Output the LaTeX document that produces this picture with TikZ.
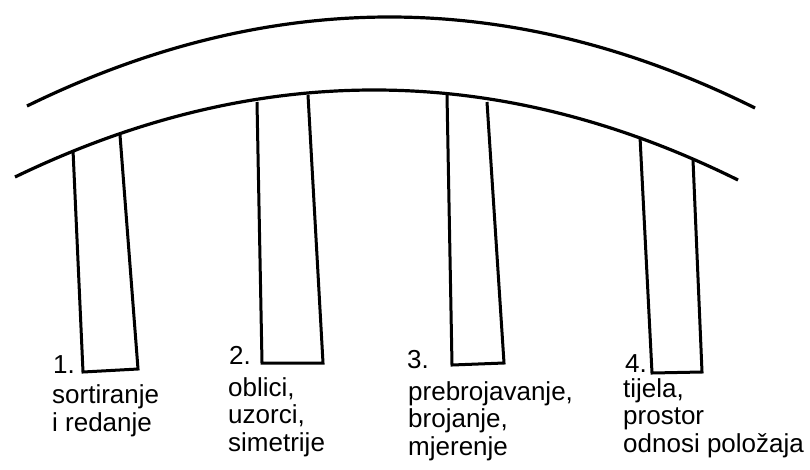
\documentclass[tikz,border=0pt]{standalone}
\usepackage{fontspec}
\setmainfont{Liberation Sans}
\begin{document}
\begin{tikzpicture}[x=1pt,y=-1pt,
    arch/.style={line width=3.2pt},
    pillar/.style={line width=3pt, line join=miter},
    num/.style={anchor=base west, inner sep=0pt, font=\fontsize{26}{27.5}\selectfont},
    area/.style={anchor=base west, inner sep=0pt, align=left, font=\fontsize{26}{27.5}\selectfont}]
        \useasboundingbox (0,0) rectangle (810,469);
        \draw[arch] (27,106) .. controls (270,-13) and (512,-13) .. (755,108);
        \draw[arch] (15,177) .. controls (257,60) and (498,61) .. (738,180);
        \foreach \tl/\bl/\br/\tr in {{(73,150)}/{(83,372)}/{(138,369)}/{(120,135)},
                                    {(257,102)}/{(262,363)}/{(323,363)}/{(308,95)},
                                    {(447,95)}/{(452,365)}/{(504,363)}/{(487,102)},
                                    {(640,137)}/{(652,373)}/{(702,372)}/{(693,160)}} {
          \draw[pillar] \tl -- \bl -- \br -- \tr;
        }
        \node[num] (n1) at (53,373) {1.};
        \node[num] (n2) at (229,364) {2.};
        \node[num] (n3) at (407,368) {3.};
        \node[num] (n4) at (625,372) {4.};
        % base anchor sits on the last line
        \node[area] (a1) at (52,431) {sortiranje\\i redanje};
        \node[area] (a2) at (228,451) {oblici,\\uzorci,\\simetrije};
        \node[area] (a3) at (408,455) {prebrojavanje,\\brojanje,\\mjerenje};
        \node[area] (a4) at (623,452) {tijela,\\prostor\\odnosi položaja};
\end{tikzpicture}
\end{document}
